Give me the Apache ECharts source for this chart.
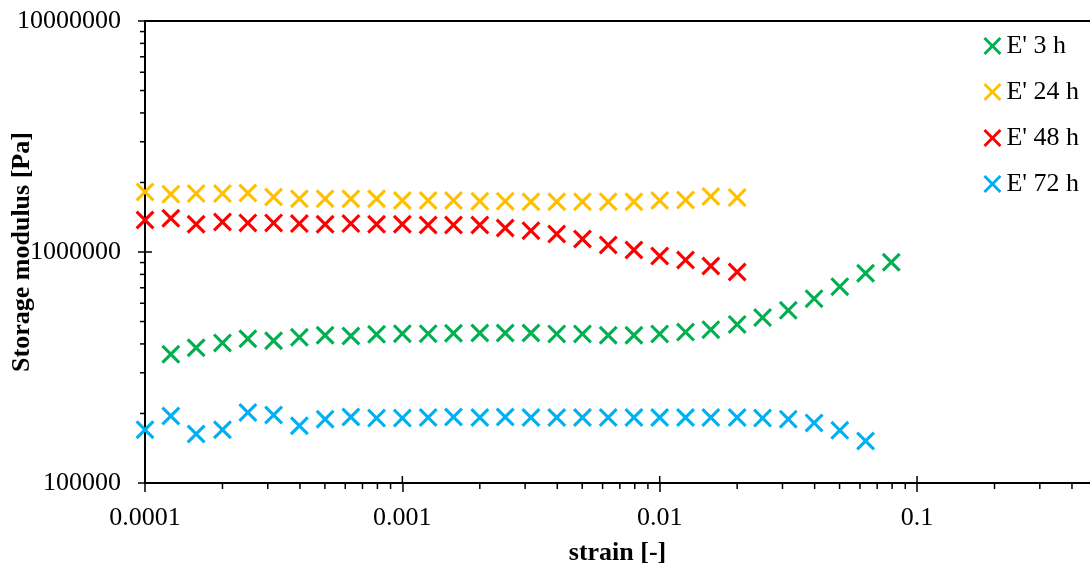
<!DOCTYPE html>
<html>
<head>
<meta charset="utf-8">
<script src="https://cdn.jsdelivr.net/npm/echarts@6/dist/echarts.min.js"></script>
<style>
  html, body { margin: 0; padding: 0; background: #fff; }
  #chart { width: 1090px; height: 567px; }
</style>
</head>
<body>
<div id="chart"></div>
<script>
// ---- data ----
const strain = [0.0001, 0.000126, 0.000158, 0.0002, 0.000251, 0.000316, 0.000398, 0.000501, 0.000631, 0.000794,
                0.001, 0.00126, 0.00158, 0.002, 0.00251, 0.00316, 0.00398, 0.00501, 0.00631, 0.00794,
                0.01, 0.0126, 0.0158, 0.02, 0.0251, 0.0316, 0.0398, 0.0501, 0.0631, 0.0794];

const E3h  = [null, 361000, 385000, 404000, 421000, 413000, 427000, 436000, 433000, 440000,
              443000, 443000, 445000, 446000, 446000, 446000, 442000, 442000, 436000, 436000,
              442000, 450000, 461000, 486000, 520000, 559000, 628000, 708000, 809000, 903000];
const E24h = [1820000, 1780000, 1790000, 1790000, 1800000, 1730000, 1700000, 1700000, 1700000, 1700000,
              1670000, 1670000, 1670000, 1660000, 1660000, 1650000, 1650000, 1650000, 1650000, 1650000,
              1670000, 1680000, 1740000, 1720000];
const E48h = [1376000, 1400000, 1318000, 1349000, 1336000, 1336000, 1327000, 1318000, 1327000, 1318000,
              1318000, 1309000, 1309000, 1309000, 1270000, 1237000, 1196000, 1138000, 1072000, 1020000,
              961000, 923000, 870000, 819000];
const E72h = [170000, 195000, 163000, 170000, 202000, 197000, 177000, 189000, 193000, 191000,
              191000, 192000, 193000, 192000, 193000, 192000, 192000, 192000, 192000, 192000,
              192000, 192000, 192000, 192000, 191000, 189000, 182000, 169000, 152000];

const seriesNames = ["E' 3 h", "E' 24 h", "E' 48 h", "E' 72 h"];
const seriesValues = [E3h, E24h, E48h, E72h];

// axis ticks
const xDecades = [0.0001, 0.001, 0.01, 0.1];
const yDecades = [100000, 1000000];
const minorMult = [2, 3, 4, 5, 6, 7, 8, 9];
const xMin = 0.0001, xMax = 0.47, yMin = 100000, yMax = 10000000;

// ---- styles ----
const colors = ['#00B050', '#FFC000', '#FF0000', '#00B0F0'];
const FONT = "'Liberation Serif', 'Times New Roman', serif";
const XSYM = 'path://M0,2.3 L2.3,0 L10,7.7 L17.7,0 L20,2.3 L12.3,10 L20,17.7 L17.7,20 L10,12.3 L2.3,20 L0,17.7 L7.7,10 Z';

function pairs(vals) {
  const out = [];
  vals.forEach((v, i) => { if (v != null) out.push([strain[i], v]); });
  return out;
}

function tickSeries(data, dx1, dy1, dx2, dy2) {
  return {
    type: 'custom', silent: true, clip: false, z: 5,
    data: data,
    renderItem: function (params, api) {
      const p = api.coord([api.value(0), api.value(1)]);
      return {
        type: 'line',
        shape: { x1: p[0] + dx1, y1: p[1] + dy1, x2: p[0] + dx2, y2: p[1] + dy2 },
        style: { stroke: '#000', lineWidth: 1.5 }
      };
    }
  };
}

const xMinor = [];
xDecades.forEach(d => minorMult.forEach(m => { const v = +(d * m).toPrecision(6); if (v <= xMax) xMinor.push([v, yMin]); }));
const yMinor = [];
yDecades.forEach(d => minorMult.forEach(m => yMinor.push([xMin, d * m])));
const xMajorInner = xDecades.slice(1).map(v => [v, yMin]);
const yMajorInner = yDecades.slice(1).map(v => [xMin, v]);

const chart = echarts.init(document.getElementById('chart'), null, { renderer: 'canvas' });

const series = seriesNames.map((name, i) => ({
  name: name,
  type: 'scatter',
  data: pairs(seriesValues[i]),
  symbol: XSYM,
  symbolSize: 19,
  itemStyle: { color: colors[i], opacity: 1 },
  emphasis: { disabled: true },
  z: 3
}));

series.push(tickSeries(xMinor, 0, 0, 0, 6));
series.push(tickSeries(yMinor, 0, 0, -5, 0));
series.push(tickSeries(xMajorInner, 0, 0, 0, -7));
series.push(tickSeries(yMajorInner, 0, 0, 7, 0));

chart.setOption({
  animation: false,
  backgroundColor: '#fff',
  textStyle: { fontFamily: FONT },
  grid: {
    left: 145, top: 21, bottom: 84, right: 0,
    containLabel: false, outerBoundsMode: 'none', show: false
  },
  legend: {
    data: seriesNames,
    orient: 'vertical',
    right: 6, top: 28,
    itemWidth: 18, itemHeight: 18, itemGap: 20,
    icon: XSYM,
    itemStyle: { opacity: 1 },
    textStyle: { fontFamily: FONT, fontSize: 26, color: '#000', lineHeight: 25 }
  },
  xAxis: [{
    type: 'log', logBase: 10, min: xMin, max: xMax,
    name: 'strain [-]', nameLocation: 'middle', nameGap: 57, nameMoveOverlap: false,
    nameTextStyle: { fontFamily: FONT, fontSize: 26, fontWeight: 'bold', color: '#000' },
    axisLine: { lineStyle: { color: '#000', width: 2 } },
    axisTick: { show: true, length: 9, lineStyle: { color: '#000', width: 1.5 } },
    axisLabel: {
      margin: 22, fontFamily: FONT, fontSize: 26, color: '#000', showMaxLabel: false,
      formatter: v => String(+(+v).toPrecision(6))
    },
    splitLine: { show: false }
  }, {
    type: 'log', logBase: 10, min: xMin, max: xMax, position: 'top',
    axisLine: { show: true, lineStyle: { color: '#000', width: 2 } },
    axisTick: { show: false }, axisLabel: { show: false }, splitLine: { show: false }
  }],
  yAxis: {
    type: 'log', logBase: 10, min: yMin, max: yMax,
    name: 'Storage modulus [Pa]', nameLocation: 'middle', nameGap: 110, nameMoveOverlap: false,
    nameTextStyle: { fontFamily: FONT, fontSize: 26, fontWeight: 'bold', color: '#000' },
    axisLine: { lineStyle: { color: '#000', width: 2 } },
    axisTick: { show: true, length: 7, lineStyle: { color: '#000', width: 1.5 } },
    axisLabel: {
      margin: 24, fontFamily: FONT, fontSize: 26, color: '#000',
      formatter: v => String(Math.round(v))
    },
    splitLine: { show: false }
  },
  series: series
});
</script>
</body>
</html>
